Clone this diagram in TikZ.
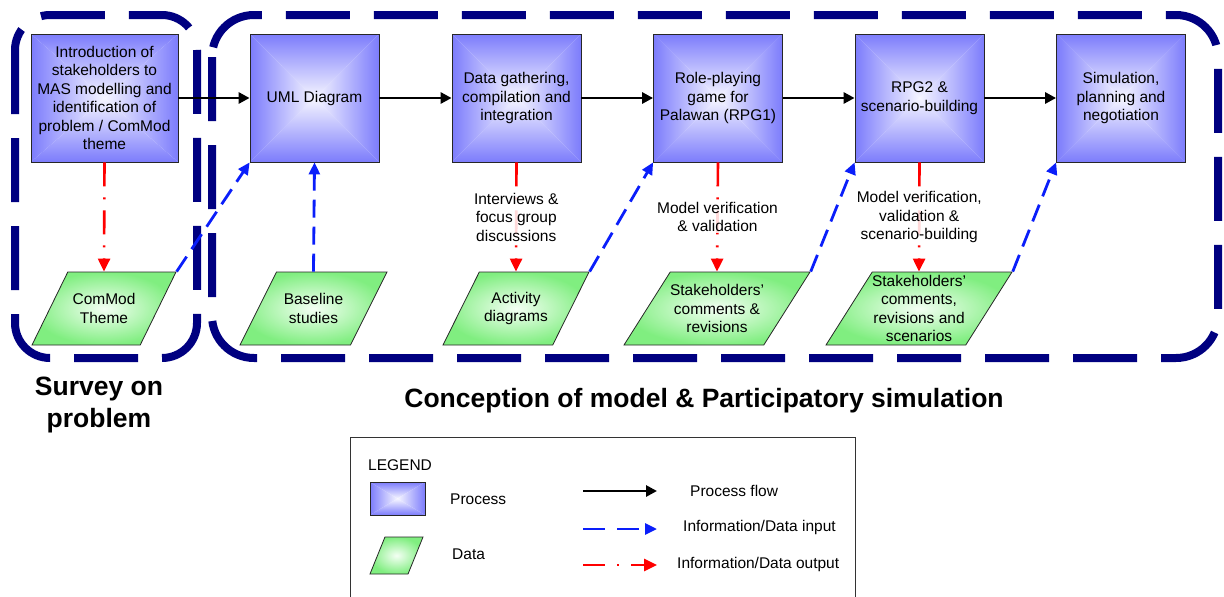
\documentclass[tikz,border=0pt]{standalone}
\usepackage{fontspec}
\setmainfont{Liberation Sans}
\usetikzlibrary{arrows.meta,shapes.geometric}

\definecolor{navybox}{RGB}{0,0,128}
\definecolor{procedge}{RGB}{124,124,252}
\definecolor{proccore}{RGB}{246,246,255}
\definecolor{dataedge}{RGB}{128,238,128}
\definecolor{datacore}{RGB}{244,255,244}
\definecolor{inblue}{RGB}{10,30,250}
\definecolor{outred}{RGB}{255,0,0}

\newcommand\dgmfont{\fontsize{15.5}{18.5}\selectfont}
\newcommand\headfont{\fontsize{26.5}{32}\selectfont\bfseries}

% green glow for the data shapes
\pgfdeclareradialshading{dataglow}{\pgfpoint{0bp}{0bp}}{%
  color(0bp)=(datacore); color(25bp)=(dataedge); color(50bp)=(dataedge)}

\tikzset{
  % rectangular "from centre" gradient built from four shaded triangles
  rectglow/.style 2 args={path picture={
    \path (path picture bounding box.north west) coordinate (gNW)
          (path picture bounding box.north east) coordinate (gNE)
          (path picture bounding box.south west) coordinate (gSW)
          (path picture bounding box.south east) coordinate (gSE)
          (path picture bounding box.center)     coordinate (gC);
    \shade[top color=#1, bottom color=#2]   (gNW) -- (gNE) -- (gC) -- cycle;
    \shade[bottom color=#1, top color=#2]   (gSW) -- (gSE) -- (gC) -- cycle;
    \shade[left color=#1, right color=#2]   (gNW) -- (gSW) -- (gC) -- cycle;
    \shade[right color=#1, left color=#2]   (gNE) -- (gSE) -- (gC) -- cycle;
  }},
  proc/.style={draw=black!85, line width=0.8pt, rectglow={procedge}{proccore},
    minimum width=129, minimum height=128, inner sep=0, align=center, font=\dgmfont},
  data/.style={trapezium, trapezium left angle=63.7, trapezium right angle=116.3,
    trapezium stretches=true, minimum height=73, inner sep=1pt,
    draw=black!85, line width=0.8pt, shade, shading=dataglow},
  dtext/.style={align=center, font=\dgmfont, inner sep=0},
  lbl/.style={fill=white, fill opacity=0.85, text opacity=1, align=center,
    font=\dgmfont, inner sep=1pt},
  flow/.style={draw=black, line width=2.8pt, -{Triangle[length=11pt,width=11pt]}},
  infoin/.style={draw=inblue, line width=2.8pt, dash pattern=on 18pt off 9pt,
    -{Triangle[length=12pt,width=11pt]}},
  infoout/.style={draw=outred, line width=2.6pt,
    dash pattern=on 24pt off 11pt on 2pt off 11pt,
    -{Triangle[length=13pt,width=12pt]}},
  container/.style={draw=navybox, line width=8pt, dash pattern=on 64pt off 24pt},
  legtext/.style={anchor=west, font=\dgmfont, inner sep=0},
}

\begin{document}
\begin{tikzpicture}[x=1pt,y=-1pt]
\useasboundingbox (0,0) rectangle (1224,597);

% phase containers
\draw[container, rounded corners=35pt] (15,15) rectangle (197,358);
\draw[container, rounded corners=42pt] (212,15) rectangle (1218,358);

% processes
\node[proc, minimum width=147] (p1) at (104.5,98)
  {Introduction of\\stakeholders to\\MAS modelling and\\identification of\\problem / ComMod\\theme};
\node[proc] (p2) at (314.5,98) {UML Diagram};
\node[proc] (p3) at (516.5,98) {Data gathering,\\compilation and\\integration};
\node[proc] (p4) at (718,98) {Role-playing\\game for\\Palawan (RPG1)};
\node[proc] (p5) at (919.5,98) {RPG2 \&\\scenario-building};
\node[proc] (p6) at (1121,98) {Simulation,\\planning and\\negotiation};

% data
\node[data, minimum width=144] (d1) at (104,308.5) {};
\node[data, minimum width=147] (d2) at (313.5,308.5) {};
\node[data, minimum width=146] (d3) at (516,308.5) {};
\node[data, minimum width=186] (d4) at (717,308.5) {};
\node[data, minimum width=186] (d5) at (919,308.5) {};
\node[dtext] (t1) at (d1.center) {ComMod\\Theme};
\node[dtext] (t2) at (d2.center) {Baseline\\studies};
\node[dtext] (t3) at (d3.center) {Activity\\diagrams};
\node[dtext] (t4) at (d4.center) {Stakeholders'\\comments \&\\revisions};
\node[dtext] (t5) at (d5.center) {Stakeholders'\\comments,\\revisions and\\scenarios};

% process flow
\draw[flow] (p1.east) -- (p2.west);
\draw[flow] (p2.east) -- (p3.west);
\draw[flow] (p3.east) -- (p4.west);
\draw[flow] (p4.east) -- (p5.west);
\draw[flow] (p5.east) -- (p6.west);

% data input
\draw[infoin] (d1.top right corner) -- (p2.south west);
\draw[infoin] (d2.north) -- (p2.south);
\draw[infoin] (d3.top right corner) -- (p4.south west);
\draw[infoin] (d4.top right corner) -- (p5.south west);
\draw[infoin] (d5.top right corner) -- (p6.south west);

% data output
\draw[infoout] (p1.south) -- (d1.north);
\draw[infoout] (p3.south) -- node[lbl] (l3) {Interviews \&\\focus group\\discussions} (d3.north);
\draw[infoout] (p4.south) -- node[lbl] (l4) {Model verification\\\& validation} (d4.north);
\draw[infoout] (p5.south) -- node[lbl] (l5) {Model verification,\\validation \&\\scenario-building} (d5.north);

% phase titles
\node[align=center, font=\headfont, inner sep=0] (h1) at (99,405) {Survey on\\problem};
\node[font=\headfont, inner sep=0] (h2) at (704,401) {Conception of model \& Participatory simulation};

% legend
\node[draw=black!80, line width=1pt, minimum width=505, minimum height=172,
      anchor=north west, inner sep=0] (legend) at (350,437) {};
\node[legtext] (legtitle) at (368,465) {LEGEND};
\node[proc, minimum width=55, minimum height=33] (legproc) at (397.5,498.5) {};
\node[legtext] (legproct) at (450,499) {Process};
\node[data, trapezium left angle=57, trapezium right angle=123,
      minimum width=53, minimum height=37] (legdata) at (396.5,555.5) {};
\node[legtext] (legdatat) at (452,554) {Data};

\coordinate (la1) at (583,491); \coordinate (lb1) at (657,491);
\coordinate (la2) at (583,529); \coordinate (lb2) at (657,529);
\coordinate (la3) at (583,565); \coordinate (lb3) at (657,565);
\draw[flow] (la1) -- (lb1);
\draw[infoin, dash pattern=on 22pt off 12pt] (la2) -- (lb2);
\draw[infoout, dash pattern=on 22pt off 12pt on 2pt off 12pt] (la3) -- (lb3);
\node[legtext] (legflow) at (690,491) {Process flow};
\node[legtext] (legin) at (683,527) {Information/Data input};
\node[legtext] (legout) at (677,564) {Information/Data output};
\end{tikzpicture}
\end{document}
